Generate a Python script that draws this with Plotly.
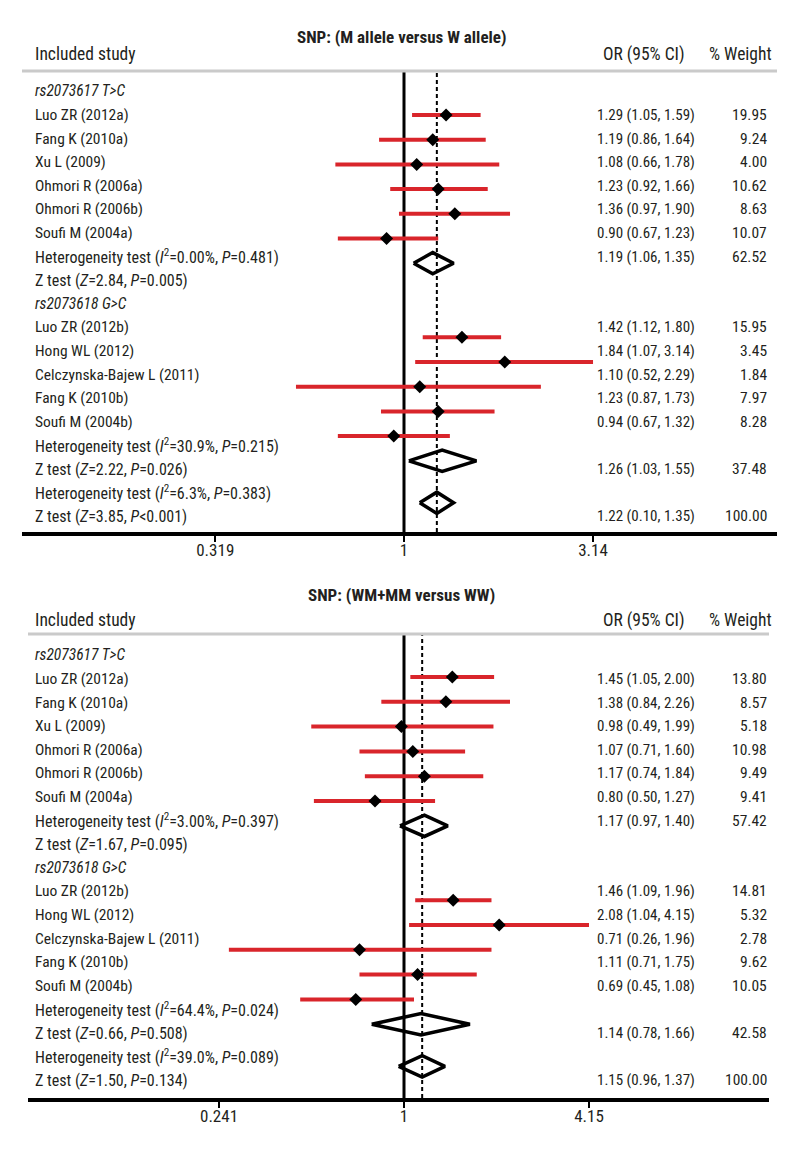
import math
import plotly.graph_objects as go

W, H = 800, 1160
FONT = "Roboto Condensed, DejaVu Sans Condensed, sans-serif"
RED = "#d9252b"
INK = "#231f20"

# ---------------- data ----------------
group_labels = ["rs2073617 T&gt;C", "rs2073618 G&gt;C"]
studies_g1 = ["Luo ZR (2012a)", "Fang K (2010a)", "Xu L (2009)", "Ohmori R (2006a)",
              "Ohmori R (2006b)", "Soufi M (2004a)"]
studies_g2 = ["Luo ZR (2012b)", "Hong WL (2012)", "Celczynska-Bajew L (2011)",
              "Fang K (2010b)", "Soufi M (2004b)"]

# Panel A: M allele versus W allele
a_title = "SNP: (M allele versus W allele)"
a_or = [1.29, 1.19, 1.08, 1.23, 1.36, 0.90, 1.42, 1.84, 1.10, 1.23, 0.94]
a_lo = [1.05, 0.86, 0.66, 0.92, 0.97, 0.67, 1.12, 1.07, 0.52, 0.87, 0.67]
a_hi = [1.59, 1.64, 1.78, 1.66, 1.90, 1.23, 1.80, 3.14, 2.29, 1.73, 1.32]
a_w = ["19.95", "9.24", "4.00", "10.62", "8.63", "10.07", "15.95", "3.45", "1.84", "7.97", "8.28"]
a_pool_or = [1.19, 1.26, 1.22]
a_pool_lo = [1.06, 1.03, 1.10]
a_pool_hi = [1.35, 1.55, 1.35]
a_pool_ci_text = ["1.19 (1.06, 1.35)", "1.26 (1.03, 1.55)", "1.22 (0.10, 1.35)"]
a_pool_w = ["62.52", "37.48", "100.00"]
a_het = [("0.00%", "0.481"), ("30.9%", "0.215"), ("6.3%", "0.383")]
a_z = [("2.84", "=0.005"), ("2.22", "=0.026"), ("3.85", "&lt;0.001")]
a_ticks = [0.319, 1, 3.14]

# Panel B: WM+MM versus WW
b_title = "SNP: (WM+MM versus WW)"
b_or = [1.45, 1.38, 0.98, 1.07, 1.17, 0.80, 1.46, 2.08, 0.71, 1.11, 0.69]
b_lo = [1.05, 0.84, 0.49, 0.71, 0.74, 0.50, 1.09, 1.04, 0.26, 0.71, 0.45]
b_hi = [2.00, 2.26, 1.99, 1.60, 1.84, 1.27, 1.96, 4.15, 1.96, 1.75, 1.08]
b_w = ["13.80", "8.57", "5.18", "10.98", "9.49", "9.41", "14.81", "5.32", "2.78", "9.62", "10.05"]
b_pool_or = [1.17, 1.14, 1.15]
b_pool_lo = [0.97, 0.78, 0.96]
b_pool_hi = [1.40, 1.66, 1.37]
b_pool_ci_text = ["1.17 (0.97, 1.40)", "1.14 (0.78, 1.66)", "1.15 (0.96, 1.37)"]
b_pool_w = ["57.42", "42.58", "100.00"]
b_het = [("3.00%", "0.397"), ("64.4%", "0.024"), ("39.0%", "0.089")]
b_z = [("1.67", "=0.095"), ("0.66", "=0.508"), ("1.50", "=0.134")]
b_ticks = [0.241, 1, 4.15]

# row structure (same for both panels)
study_rows = [1, 2, 3, 4, 5, 6, 10, 11, 12, 13, 14]
group_rows = [0, 9]
het_rows = [7, 15, 17]
z_rows = [8, 16, 18]
pool_text_rows = [7, 16, 18]
pool_mark_rows = [7, 15, 16.7]

panels = [
    dict(title=a_title, orv=a_or, lo=a_lo, hi=a_hi, w=a_w, por=a_pool_or, plo=a_pool_lo,
         phi=a_pool_hi, pci=a_pool_ci_text, pw=a_pool_w, het=a_het, z=a_z, ticks=a_ticks,
         axis_y=532, head_y=71, bar_r1=115, bar_step=24.7, txt_r1=115, txt_step=23.6,
         xl=22, xr=777, x_one=404, ppl=165.2, title_y=37, hdr_y=54),
    dict(title=b_title, orv=b_or, lo=b_lo, hi=b_hi, w=b_w, por=b_pool_or, plo=b_pool_lo,
         phi=b_pool_hi, pci=b_pool_ci_text, pw=b_pool_w, het=b_het, z=b_z, ticks=b_ticks,
         axis_y=1098, head_y=634, bar_r1=677, bar_step=24.8, txt_r1=679, txt_step=23.6,
         xl=28, xr=769, x_one=404, ppl=130.0, title_y=595, hdr_y=620),
]

fig = go.Figure()
layout = dict(width=W, height=H, margin=dict(l=0, r=0, t=0, b=0),
              paper_bgcolor="white", plot_bgcolor="white", showlegend=False,
              font=dict(family=FONT, color=INK))
annotations = []
shapes = []

def px(x):
    return x / W

def py(y):
    return 1 - y / H

for i, p in enumerate(panels):
    k = i + 1
    xa = "x" if k == 1 else f"x{k}"
    ya = "y" if k == 1 else f"y{k}"
    yt_n = k + 2
    yt = f"y{yt_n}"
    dom_y = [py(p["axis_y"]), py(p["head_y"])]
    rb_top = 1 + (p["head_y"] - p["bar_r1"]) / p["bar_step"]
    rb_bot = 1 + (p["axis_y"] - p["bar_r1"]) / p["bar_step"]
    rt_top = 1 + (p["head_y"] - p["txt_r1"]) / p["txt_step"]
    rt_bot = 1 + (p["axis_y"] - p["txt_r1"]) / p["txt_step"]
    ln_l = (p["xl"] - p["x_one"]) / p["ppl"]
    ln_r = (p["xr"] - p["x_one"]) / p["ppl"]
    xr = [ln_l / math.log(10), ln_r / math.log(10)]

    layout["xaxis" if k == 1 else f"xaxis{k}"] = dict(
        type="log", range=xr, domain=[px(p["xl"]), px(p["xr"])], anchor=ya,
        showline=True, linewidth=4, linecolor="black", mirror=False,
        ticks="outside", ticklen=6, tickwidth=2, tickcolor="black",
        tickvals=p["ticks"], ticktext=[f"{t:g}" for t in p["ticks"]],
        tickfont=dict(size=17, color=INK, family=FONT), ticklabelstandoff=-6,
        showgrid=False, zeroline=False, fixedrange=True)
    layout["yaxis" if k == 1 else f"yaxis{k}"] = dict(
        range=[rb_bot, rb_top], domain=dom_y, anchor=xa, visible=False,
        showgrid=False, zeroline=False, fixedrange=True)
    layout[f"yaxis{yt_n}"] = dict(
        range=[rt_bot, rt_top], domain=dom_y, anchor=xa, overlaying=ya, visible=False,
        showgrid=False, zeroline=False, fixedrange=True)

    shapes.append(dict(type="line", xref=xa, yref=f"{ya} domain", x0=1, x1=1, y0=0, y1=1,
                       line=dict(color="black", width=3), layer="below"))
    shapes.append(dict(type="line", xref=xa, yref=f"{ya} domain", x0=p["por"][-1],
                       x1=p["por"][-1], y0=0, y1=1,
                       line=dict(color="black", width=2, dash="4px,3px"), layer="below"))
    shapes.append(dict(type="line", xref="paper", yref="paper", x0=px(p["xl"]), x1=px(p["xr"]),
                       y0=py(p["head_y"]), y1=py(p["head_y"]),
                       line=dict(color="#cacaca", width=3)))

    cx, cy = [], []
    for r, lo, hi in zip(study_rows, p["lo"], p["hi"]):
        cx += [lo, hi, None]
        cy += [r, r, None]
    fig.add_trace(go.Scatter(x=cx, y=cy, mode="lines", xaxis=xa, yaxis=ya,
                             line=dict(color=RED, width=4), hoverinfo="skip"))
    fig.add_trace(go.Scatter(x=p["orv"], y=study_rows, mode="markers", xaxis=xa, yaxis=ya,
                             marker=dict(symbol="diamond", size=10, color="black")))
    dx, dy = [], []
    h = 0.43
    for r, o, lo, hi in zip(pool_mark_rows, p["por"], p["plo"], p["phi"]):
        dx += [lo, o, hi, o, lo, None]
        dy += [r, r - h, r, r + h, r, None]
    fig.add_trace(go.Scatter(x=dx, y=dy, mode="lines", xaxis=xa, yaxis=ya,
                             line=dict(color="black", width=3.5), hoverinfo="skip"))

    annotations.append(dict(text=f"<b>{p['title']}</b>", x=px(402), y=py(p["title_y"]),
                            xref="paper", yref="paper", xanchor="center", yanchor="middle",
                            showarrow=False, font=dict(size=17, color=INK)))
    annotations.append(dict(text="Included study", x=px(33), y=py(p["hdr_y"]),
                            xref="paper", yref="paper", xanchor="left", yanchor="middle",
                            showarrow=False, font=dict(size=17.5, color=INK)))
    annotations.append(dict(text="OR (95% CI)", x=px(644), y=py(p["hdr_y"]),
                            xref="paper", yref="paper", xanchor="center", yanchor="middle",
                            showarrow=False, font=dict(size=17.5, color=INK)))
    annotations.append(dict(text="% Weight", x=px(774), y=py(p["hdr_y"]),
                            xref="paper", yref="paper", xanchor="right", yanchor="middle",
                            showarrow=False, font=dict(size=17.5, color=INK)))

    def row_text(text, r, x, anchor, size=15.5):
        annotations.append(dict(text=text, x=px(x), y=r, xref="paper", yref=yt,
                                xanchor=anchor, yanchor="middle", showarrow=False,
                                font=dict(size=size, color=INK)))

    for r, g in zip(group_rows, group_labels):
        row_text(f"<i>{g}</i>", r, 33, "left")
    names = studies_g1 + studies_g2
    for r, nm, o, lo, hi, w in zip(study_rows, names, p["orv"], p["lo"], p["hi"], p["w"]):
        row_text(nm, r, 33, "left")
        row_text(f"{o:.2f} ({lo:.2f}, {hi:.2f})", r, 697, "right", 15)
        row_text(w, r, 769, "right", 15.5)
    for r, (i2, pv) in zip(het_rows, p["het"]):
        row_text(f"Heterogeneity test (<i>I</i><sup>2</sup>={i2}, <i>P</i>={pv})", r, 33, "left", 16)
    for r, (zv, pv) in zip(z_rows, p["z"]):
        row_text(f"Z test (<i>Z</i>={zv}, <i>P</i>{pv})", r, 33, "left", 16)
    for r, ci, w in zip(pool_text_rows, p["pci"], p["pw"]):
        row_text(ci, r, 697, "right", 15)
        row_text(w, r, 769, "right", 15.5)

layout["annotations"] = annotations
layout["shapes"] = shapes
fig.update_layout(**layout)
fig.write_html("out.html", config={"displayModeBar": False},
               post_script="document.body.style.margin='0';")
